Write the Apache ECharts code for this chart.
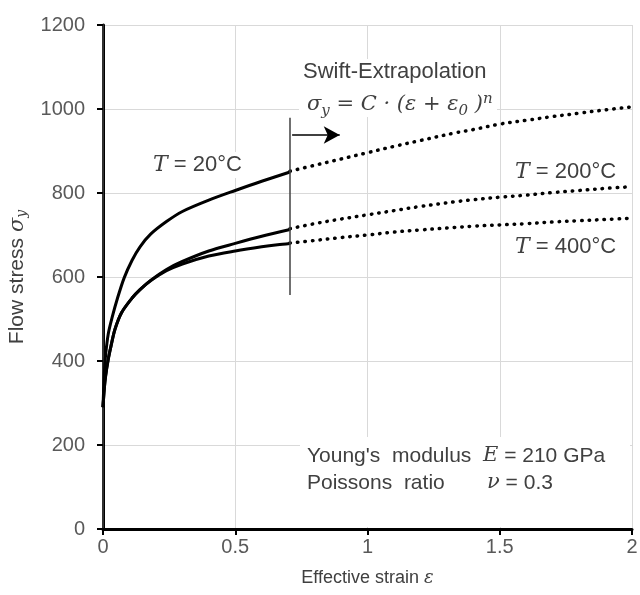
<!DOCTYPE html>
<html>
<head>
<meta charset="utf-8">
<script src="https://cdn.jsdelivr.net/npm/echarts@6/dist/echarts.min.js"></script>
<style>html,body{margin:0;padding:0;background:#fff}#c{width:640px;height:595px}</style>
</head>
<body>
<div id="c"></div>
<script>
// Measured curves (strain, flow stress)
const strain20  = [0, 0.005, 0.01, 0.02, 0.035, 0.055, 0.08, 0.11, 0.14, 0.18, 0.24, 0.3, 0.4, 0.5, 0.6, 0.707];
const stress20  = [290, 370, 415, 465, 505, 550, 598, 640, 672, 702, 732, 756, 783, 806, 828, 850];
const strain200 = [0, 0.005, 0.01, 0.02, 0.03, 0.045, 0.07, 0.11, 0.14, 0.18, 0.24, 0.3, 0.4, 0.5, 0.6, 0.707];
const stress200 = [290, 335, 365, 405, 435, 475, 515, 550, 570, 592, 618, 637, 662, 680, 697, 713];
const strain400 = [0, 0.005, 0.01, 0.02, 0.03, 0.045, 0.07, 0.11, 0.14, 0.18, 0.24, 0.3, 0.4, 0.5, 0.6, 0.66, 0.707];
const stress400 = [290, 335, 365, 405, 435, 475, 515, 550, 570, 591, 615, 631, 650, 662, 672, 677, 680];
// Swift extrapolations
const extStrain = [0.707, 0.8, 0.9, 1.0, 1.1, 1.2, 1.33, 1.4, 1.5, 1.6, 1.7, 1.8, 1.9, 2.0];
const ext20     = [852, 866, 881, 896, 911, 925, 943, 951, 964, 973, 982, 990, 998, 1005];
const ext200    = [715, 727, 738, 748, 758, 768, 779, 784, 790, 795, 801, 806, 811, 815];
const ext400    = [681, 687, 694, 700, 707, 712, 718, 721, 724, 727, 731, 734, 737, 740];
// Divider line and arrow
const dividerStrain = 0.707;
const dividerStress = [557, 979];
const arrowStrain = [0.715, 0.895];
const arrowStress = 938;
// Axis ticks
const xTicks = [0, 0.5, 1, 1.5, 2];
const yTicks = [0, 200, 400, 600, 800, 1000, 1200];

const zip = (a, b) => a.map((v, i) => [v, b[i]]);
const SANS = 'Liberation Sans, Arial, sans-serif';
const SERIF = 'DejaVu Serif, Liberation Serif, serif';
const TXT = '#404040';

const solid = (name, xs, ys) => ({
  type: 'line', name, data: zip(xs, ys), showSymbol: false, symbol: 'none',
  smooth: 0.3,
  lineStyle: { color: '#000', width: 3 }, z: 3
});
const dotted = (name, xs, ys) => ({
  type: 'line', name, data: zip(xs, ys), showSymbol: false, symbol: 'none',
  smooth: 0.4,
  lineStyle: { color: '#000', width: 3.5, type: [0.5, 7], cap: 'round' }, z: 3
});
const tLabel = (x, y, s, size) => ({
  type: 'text', x, y, z: 5, style: { verticalAlign: 'middle', rich: {
    t: { fontFamily: SERIF, fontStyle: 'italic', fontSize: size, fill: TXT },
    r: { fontFamily: SANS, fontSize: size, fill: TXT } }, text: s } });
const whiteBox = (x, y, w, h) => ({ type: 'rect', z: 1, silent: true,
  shape: { x, y, width: w, height: h }, style: { fill: '#fff' } });

const chart = echarts.init(document.getElementById('c'), null, { renderer: 'canvas' });
chart.setOption({
  animation: false,
  backgroundColor: '#fff',
  grid: { left: 103, right: 8, top: 25, bottom: 66, containLabel: false, outerBoundsMode: 'none' },
  xAxis: {
    type: 'value', min: xTicks[0], max: xTicks[xTicks.length - 1], interval: 0.5,
    name: 'Effective strain {e|ε}', nameLocation: 'middle', nameGap: 40,
    nameTextStyle: { color: TXT, fontSize: 18, fontFamily: SANS,
      rich: { e: { fontFamily: SERIF, fontStyle: 'italic', fontSize: 18, color: TXT } } },
    axisLine: { show: true, onZero: false, lineStyle: { color: '#000', width: 3 } },
    axisTick: { show: true, inside: false, length: 6, lineStyle: { color: '#000', width: 2 } },
    axisLabel: { color: '#595959', fontSize: 20, fontFamily: SANS, margin: 8, formatter: v => String(v) },
    splitLine: { show: true, lineStyle: { color: '#d9d9d9', width: 1 } }
  },
  yAxis: [{
    type: 'value', min: yTicks[0], max: yTicks[yTicks.length - 1], interval: 200,
    name: 'Flow stress {s|σ}{sub|y}', nameLocation: 'middle', nameGap: 70, nameRotate: 90,
    nameTextStyle: { color: TXT, fontSize: 21, fontFamily: SANS,
      rich: { s: { fontFamily: SERIF, fontStyle: 'italic', fontSize: 21, color: TXT },
              sub: { fontFamily: SERIF, fontStyle: 'italic', fontSize: 14, color: TXT, padding: [10, 0, 0, 0] } } },
    axisLine: { show: true, onZero: false, lineStyle: { color: '#000', width: 3 } },
    axisTick: { show: true, inside: false, length: 6, lineStyle: { color: '#000', width: 2 } },
    axisLabel: { color: '#595959', fontSize: 20, fontFamily: SANS, margin: 18, formatter: v => String(v) },
    splitLine: { show: true, lineStyle: { color: '#d9d9d9', width: 1 } }
  }, {
    type: 'value', position: 'right', min: yTicks[0], max: yTicks[yTicks.length - 1], interval: 200,
    axisLine: { show: true, lineStyle: { color: '#404040', width: 1.5 } },
    axisTick: { show: false }, axisLabel: { show: false }, splitLine: { show: false }
  }],
  series: [
    solid('T20', strain20, stress20),
    solid('T200', strain200, stress200),
    solid('T400', strain400, stress400),
    dotted('T20ext', extStrain, ext20),
    dotted('T200ext', extStrain, ext200),
    dotted('T400ext', extStrain, ext400),
    {
      type: 'line', name: 'divider', symbol: 'none', showSymbol: false,
      data: [[dividerStrain, dividerStress[0]], [dividerStrain, dividerStress[1]]],
      lineStyle: { color: '#404040', width: 1.5 }, z: 4,
      markLine: {
        silent: true, symbol: ['none', 'arrow'], symbolSize: [13, 16],
        lineStyle: { color: '#000', width: 1.5, type: 'solid' },
        label: { show: false },
        data: [[{ coord: [arrowStrain[0], arrowStress] }, { coord: [arrowStrain[1], arrowStress] }]]
      }
    }
  ],
  graphic: [
    whiteBox(299, 59, 198, 58),
    whiteBox(150, 152, 94, 26),
    whiteBox(300, 437, 330, 90),
    tLabel(153, 165, '{t|T}{r| = 20°C}', 22),
    tLabel(515, 172, '{t|T}{r| = 200°C}', 22),
    tLabel(515, 247, '{t|T}{r| = 400°C}', 22),
    { type: 'text', x: 303, y: 72, z: 5, style: { verticalAlign: 'middle', text: 'Swift-Extrapolation', font: '22px ' + SANS, fill: TXT } },
    { type: 'text', x: 307, y: 105, z: 5, style: { verticalAlign: 'middle', rich: {
        m: { fontFamily: SERIF, fontStyle: 'italic', fontSize: 21, fill: TXT },
        sub: { fontFamily: SERIF, fontStyle: 'italic', fontSize: 15, fill: TXT, padding: [12, 0, 0, 0] },
        sup: { fontFamily: SERIF, fontStyle: 'italic', fontSize: 15, fill: TXT, padding: [0, 0, 12, 0] } },
        text: '{m|σ}{sub|y}{m| = C · (ε + ε}{sub|0}{m| )}{sup|n}' } },
    { type: 'text', x: 307, y: 456, z: 5, style: { verticalAlign: 'middle', text: "Young's  modulus", font: '21px ' + SANS, fill: TXT } },
    tLabel(483, 456, '{t|E}{r| = 210 GPa}', 21),
    { type: 'text', x: 307, y: 483, z: 5, style: { verticalAlign: 'middle', text: 'Poissons  ratio', font: '21px ' + SANS, fill: TXT } },
    tLabel(487, 483, '{t|ν}{r| = 0.3}', 21)
  ]
});
</script>
</body>
</html>
